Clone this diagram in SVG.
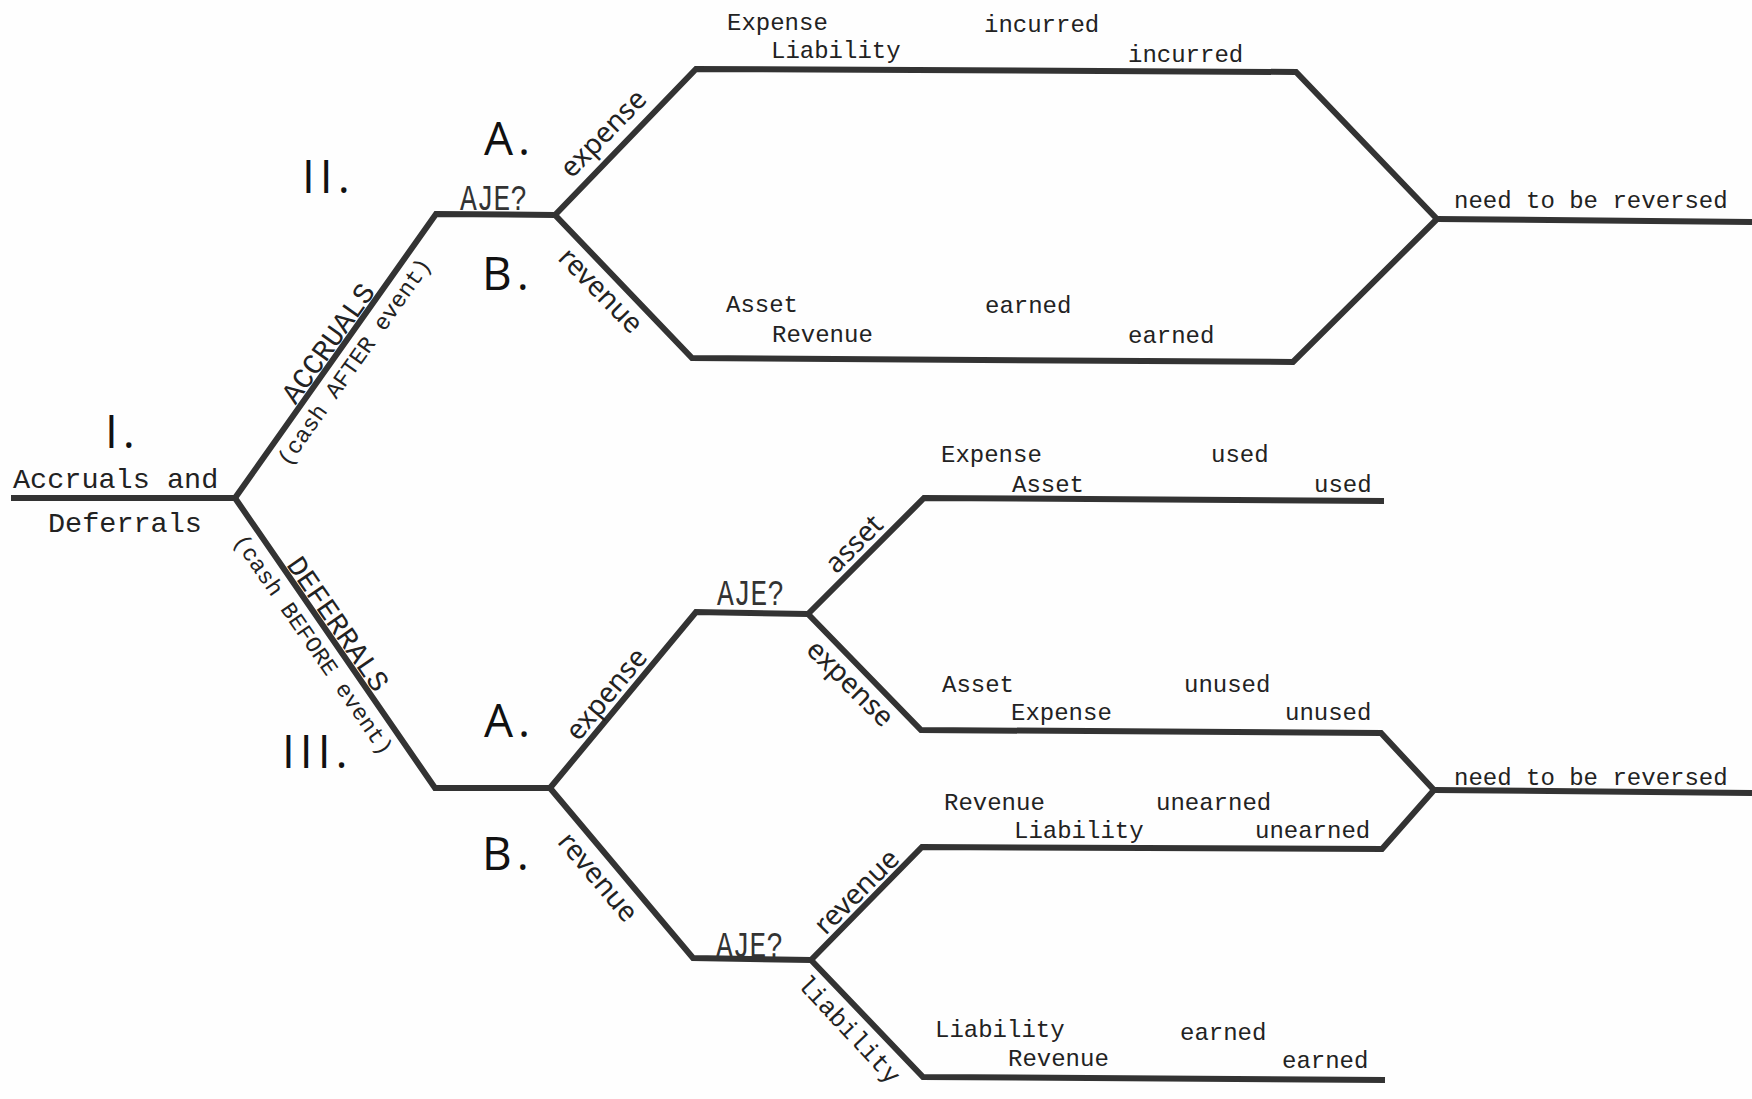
<svg xmlns="http://www.w3.org/2000/svg" width="1752" height="1099" viewBox="0 0 1752 1099">
<style>
.ln{fill:none;stroke:#333;stroke-width:6;stroke-linejoin:miter;stroke-linecap:butt}
.tw{font-family:"Liberation Mono","DejaVu Sans Mono",monospace;font-size:24px;fill:#222}
.big{font-family:"Liberation Mono","DejaVu Sans Mono",monospace;font-size:28.5px;fill:#222}
.aje{font-family:"Liberation Mono","DejaVu Sans Mono",monospace;font-size:28px;fill:#333}
.num{font-family:"Open Sans","Noto Sans",sans-serif;font-size:46px;fill:#111;letter-spacing:5px}
.lab{font-family:"Noto Sans","Open Sans",sans-serif;font-size:28px;fill:#222;text-anchor:middle}
.cap{font-family:"Liberation Mono","DejaVu Sans Mono",monospace;font-size:29px;fill:#222;text-anchor:middle}
.par{font-family:"Liberation Mono","DejaVu Sans Mono",monospace;font-size:23px;fill:#222;text-anchor:middle}
</style>
<rect width="1752" height="1099" fill="#fefefe"/>
<g id="connectors">
<polyline class="ln" points="11,498 235,498"/>
<polyline class="ln" points="235,498 436,214 555,215"/>
<polyline class="ln" points="555,215 696,69 1296,72 1437,219"/>
<polyline class="ln" points="555,215 692,358 1293,362 1437,219"/>
<polyline class="ln" points="1437,219 1752,222"/>
<polyline class="ln" points="235,498 435,788 550,788"/>
<polyline class="ln" points="550,788 696,612 808,614"/>
<polyline class="ln" points="808,614 924,498 1384,501"/>
<polyline class="ln" points="808,614 921,730 1381,733 1434,790"/>
<polyline class="ln" points="550,788 693,958 811,960"/>
<polyline class="ln" points="811,960 922,847 1382,849 1434,790"/>
<polyline class="ln" points="811,960 923,1077 1385,1080"/>
<polyline class="ln" points="1434,790 1752,793"/>
</g>
<g id="node-I">
<text class="num" x="105" y="448">I.</text>
<text class="big" x="13" y="488">Accruals and</text>
<text class="big" x="48" y="532">Deferrals</text>
</g>
<g id="node-II">
<text class="num" x="302" y="193">II.</text>
<text class="cap" transform="translate(335.8,348.7) rotate(-54.7)">ACCRUALS</text>
<text class="par" transform="translate(360.2,366) rotate(-54.7)">(cash AFTER event)</text>
<text class="aje" transform="translate(460,210) scale(1,1.3)">AJE?</text>
</g>
<g id="node-IIA">
<text class="num" x="484" y="155">A.</text>
<text class="lab" transform="translate(610,140) rotate(-45.8)">expense</text>
<text class="tw" x="727" y="30">Expense</text>
<text class="tw" x="984" y="32">incurred</text>
<text class="tw" x="771" y="58">Liability</text>
<text class="tw" x="1128" y="62">incurred</text>
</g>
<g id="node-IIB">
<text class="num" x="482" y="290">B.</text>
<text class="lab" transform="translate(594,297) rotate(45.6)">revenue</text>
<text class="tw" x="726" y="312">Asset</text>
<text class="tw" x="985" y="313">earned</text>
<text class="tw" x="772" y="342">Revenue</text>
<text class="tw" x="1128" y="343">earned</text>
</g>
<g id="node-II-result">
<text class="tw" x="1454" y="208">need to be reversed</text>
</g>
<g id="node-III">
<text class="num" x="282" y="768">III.</text>
<text class="cap" transform="translate(330.3,629.2) rotate(55.4)">DEFERRALS</text>
<text class="par" transform="translate(307.3,648.8) rotate(55.4)">(cash BEFORE event)</text>
</g>
<g id="node-IIIA">
<text class="num" x="484" y="737">A.</text>
<text class="lab" transform="translate(613.5,700) rotate(-50.3)">expense</text>
<text class="aje" transform="translate(717,605) scale(1,1.3)">AJE?</text>
</g>
<g id="node-IIIA-asset">
<text class="lab" transform="translate(860.5,550.5) rotate(-45)">asset</text>
<text class="tw" x="941" y="462">Expense</text>
<text class="tw" x="1211" y="462">used</text>
<text class="tw" x="1012" y="492">Asset</text>
<text class="tw" x="1314" y="492">used</text>
</g>
<g id="node-IIIA-expense">
<text class="lab" transform="translate(843.7,689.8) rotate(44.8)">expense</text>
<text class="tw" x="942" y="692">Asset</text>
<text class="tw" x="1184" y="692">unused</text>
<text class="tw" x="1011" y="720">Expense</text>
<text class="tw" x="1285" y="720">unused</text>
</g>
<g id="node-III-result">
<text class="tw" x="1454" y="785">need to be reversed</text>
</g>
<g id="node-IIIB">
<text class="num" x="482" y="870">B.</text>
<text class="lab" transform="translate(590.8,883) rotate(49.9)">revenue</text>
<text class="aje" transform="translate(716,957) scale(1,1.3)">AJE?</text>
</g>
<g id="node-IIIB-revenue">
<text class="lab" transform="translate(863.3,898.3) rotate(-45)">revenue</text>
<text class="tw" x="944" y="810">Revenue</text>
<text class="tw" x="1156" y="810">unearned</text>
<text class="tw" x="1014" y="838">Liability</text>
<text class="tw" x="1255" y="838">unearned</text>
</g>
<g id="node-IIIB-liability">
<text class="tw" style="font-size:25.5px" text-anchor="middle" transform="translate(843,1035) rotate(47)">liability</text>
<text class="tw" x="935" y="1037">Liability</text>
<text class="tw" x="1180" y="1040">earned</text>
<text class="tw" x="1008" y="1066">Revenue</text>
<text class="tw" x="1282" y="1068">earned</text>
</g>
</svg>
